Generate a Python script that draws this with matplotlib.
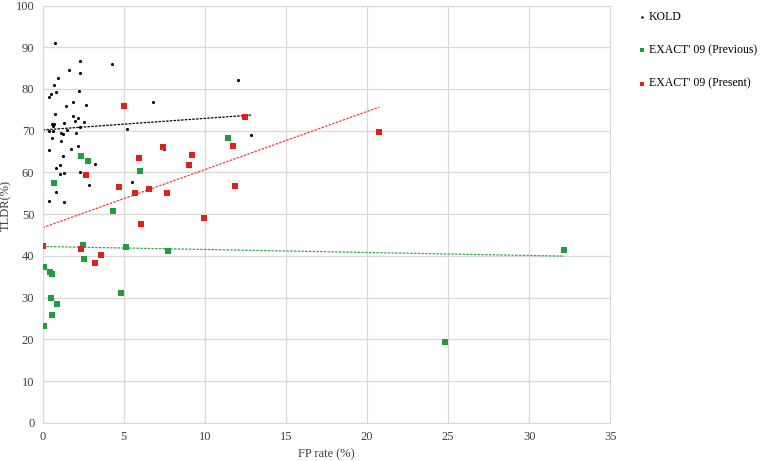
import numpy as np
import matplotlib.pyplot as plt

# KOLD
kold_x = [0.78, 2.31, 4.26, 1.62, 2.28, 0.94, 0.68, 2.23, 0.84, 0.53, 0.39, 1.86, 6.81,
          1.45, 2.68, 0.74, 1.86, 2.17, 1.97, 2.52, 1.31, 0.55, 0.71, 0.63, 2.31, 1.48,
          0.39, 0.65, 1.14, 1.25, 2.03, 5.19, 0.59, 1.14, 0.41, 1.72, 2.17, 7.48, 1.25,
          3.20, 1.06, 0.80, 1.05, 1.31, 2.31, 2.87, 5.48, 0.84, 0.39, 1.31, 12.02, 12.84]
kold_y = [91.0, 86.7, 86.0, 84.5, 83.8, 82.6, 81.0, 79.6, 79.2, 78.7, 78.0, 76.8, 76.8,
          75.8, 76.2, 74.0, 73.5, 73.0, 72.3, 72.0, 71.8, 71.6, 71.5, 71.1, 70.8, 70.2,
          69.9, 70.0, 69.5, 69.2, 69.4, 70.4, 68.2, 67.6, 65.4, 65.7, 66.4, 65.6, 64.0,
          61.9, 61.8, 61.1, 59.7, 59.9, 60.1, 57.1, 57.7, 55.3, 53.1, 53.0, 82.1, 69.0]

# EXACT'09 (Previous)
prev_x = [2.38, 2.79, 5.99, 0.70, 4.31, 2.48, 5.14, 7.73, 2.52, 0.08, 0.43, 0.59,
          4.82, 0.49, 0.90, 0.59, 0.08, 11.45, 32.16, 24.82]
prev_y = [63.9, 62.7, 60.3, 57.5, 50.7, 42.6, 42.2, 41.2, 39.2, 37.4, 36.2, 35.6,
          31.1, 29.9, 28.4, 25.9, 23.2, 68.2, 41.3, 19.4]

# EXACT'09 (Present)
pres_x = [0.0, 2.38, 3.61, 3.20, 2.65, 4.68, 5.02, 5.70, 5.94, 6.05, 6.56, 7.42,
          7.67, 9.05, 9.21, 9.93, 11.75, 11.85, 12.49, 20.76]
pres_y = [42.4, 41.6, 40.2, 38.2, 59.3, 56.5, 75.8, 55.1, 63.5, 47.6, 56.1, 66.1,
          55.0, 61.7, 64.2, 49.0, 66.3, 56.7, 73.4, 69.6]

plt.rcParams['font.family'] = ['Liberation Serif', 'DejaVu Serif']

fig = plt.figure(figsize=(7.62, 4.61), dpi=100)
ax = fig.add_axes([0.056, 0.083, 0.745, 0.905])

green = '#1e9e3e'
red = '#e0201c'

ax.scatter(kold_x, kold_y, s=5, c='black', marker='o', linewidths=0, label='KOLD', zorder=3)
ax.scatter(prev_x, prev_y, s=14, c=green, marker='s', linewidths=0, label="EXACT' 09 (Previous)", zorder=3)
ax.scatter(pres_x, pres_y, s=14, c=red, marker='s', linewidths=0, label="EXACT' 09 (Present)", zorder=3)

# linear trendlines
for xs, ys, col in [(kold_x, kold_y, 'black'), (prev_x, prev_y, '#3aa655'), (pres_x, pres_y, '#e8423e')]:
    k, b = np.polyfit(xs, ys, 1)
    xx = np.array([0, max(xs)])
    ax.plot(xx, k * xx + b, ls=(0, (2, 1)), lw=0.9, color=col, zorder=2)

ax.set_xlim(0, 35)
ax.set_ylim(0, 100)
ax.set_xticks(range(0, 36, 5))
ax.set_yticks(range(0, 101, 10))
ax.grid(True, color='#d9d9d9', lw=0.9)
ax.set_axisbelow(True)
for sp in ax.spines.values():
    sp.set_color('#d9d9d9')
ax.tick_params(length=0, labelsize=9, pad=6, colors='#404040')
ax.set_xlabel('FP rate (%)', fontsize=9, color='#404040', labelpad=4)
ax.set_ylabel('TLDR(%)', fontsize=9, color='#404040')
ax.yaxis.set_label_coords(-0.054, 0.52)

fig.legend(loc='upper left', bbox_to_anchor=(0.832, 0.986), frameon=False, fontsize=8.5,
           handlelength=0.5, handletextpad=0.35, labelspacing=1.8, markerscale=0.8,
           borderaxespad=0)

fig.savefig('out.png', dpi=100)
